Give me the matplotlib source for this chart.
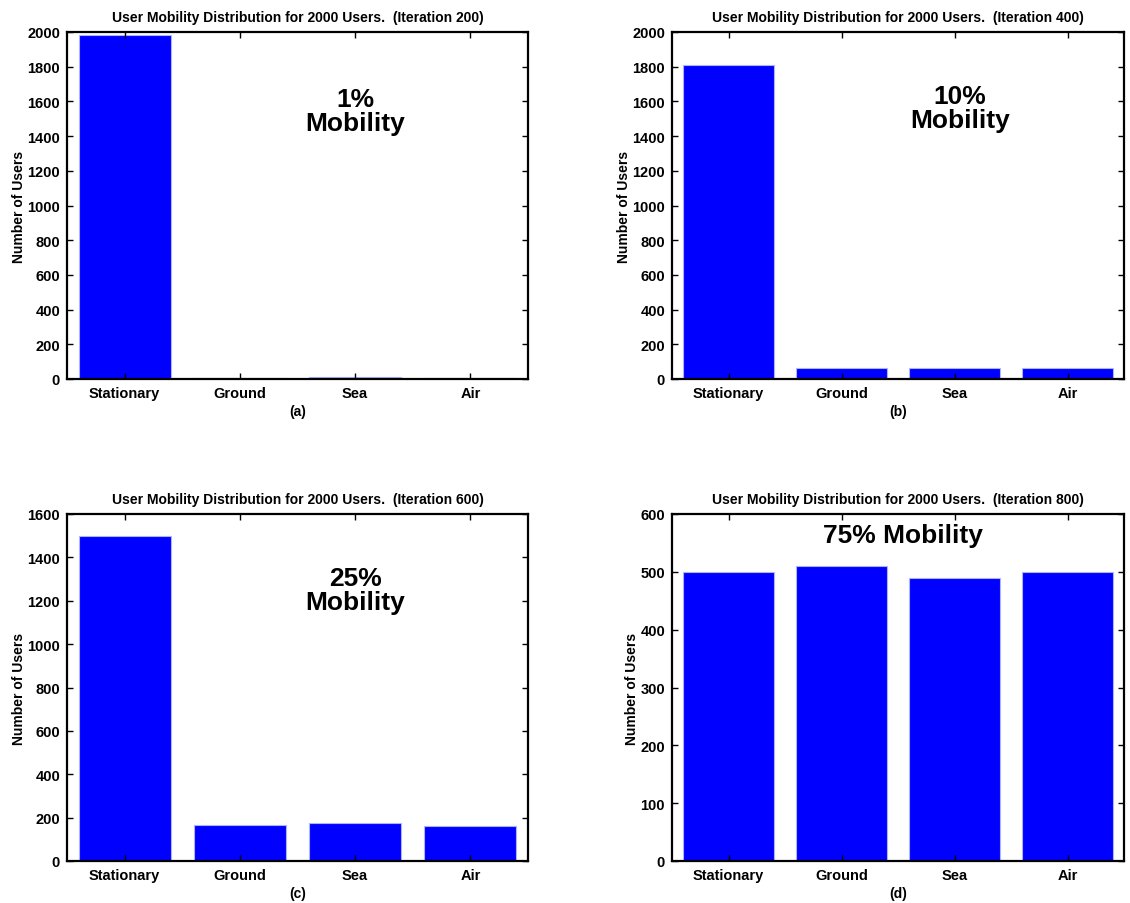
import numpy as np
import matplotlib.pyplot as plt

plt.rcParams['font.family'] = ['Liberation Sans', 'DejaVu Sans']
plt.rcParams['font.weight'] = 'bold'

categories = ['Stationary', 'Ground', 'Sea', 'Air']
iterations = [200, 400, 600, 800]
panel_tags = ['(a)', '(b)', '(c)', '(d)']

users_a = [1980, 4, 11, 5]
users_b = [1812, 66, 61, 61]
users_c = [1500, 165, 175, 160]
users_d = [499, 510, 490, 499]

ymax_list = [2000, 2000, 1600, 600]
ystep_list = [200, 200, 200, 100]
notes = ['1%\nMobility', '10%\nMobility', '25%\nMobility', '75% Mobility']
note_xy = [(3.0, 1545), (3.05, 1560), (3.0, 1250), (2.54, 564)]

all_users = [users_a, users_b, users_c, users_d]

fig = plt.figure(figsize=(11.3, 9.04), dpi=100)
W, H = 1130.0, 904.0
boxes = [(67, 33, 528, 380), (672, 33, 1124, 380),
         (67, 515, 528, 862), (672, 515, 1124, 862)]

x = np.arange(1, 5)
for i in range(4):
    l, t, r, b = boxes[i]
    ax = fig.add_axes([l / W, 1 - b / H, (r - l) / W, (b - t) / H])
    ax.bar(x, all_users[i], width=0.8, color='#0000ff', edgecolor='#aab4ff', linewidth=0.8)
    ax.set_xlim(0.5, 4.5)
    ax.set_ylim(0, ymax_list[i])
    ax.set_yticks(np.arange(0, ymax_list[i] + 1, ystep_list[i]))
    ax.set_xticks(x)
    ax.set_xticklabels(categories)
    ax.tick_params(direction='in', top=True, right=True, length=4, width=1,
                   labelsize=10.5, pad=5)
    for s in ax.spines.values():
        s.set_linewidth(1.6)
    ax.set_title('User Mobility Distribution for 2000 Users.  (Iteration %d)' % iterations[i],
                 fontsize=10, fontweight='bold', pad=8)
    ax.set_ylabel('Number of Users', fontsize=10, fontweight='bold', labelpad=1)
    ax.set_xlabel(panel_tags[i], fontsize=10, fontweight='bold', labelpad=3)
    ax.text(note_xy[i][0], note_xy[i][1], notes[i], ha='center', va='center',
            fontsize=19, fontweight='bold', linespacing=1.0)

fig.savefig('out.png', dpi=100)
